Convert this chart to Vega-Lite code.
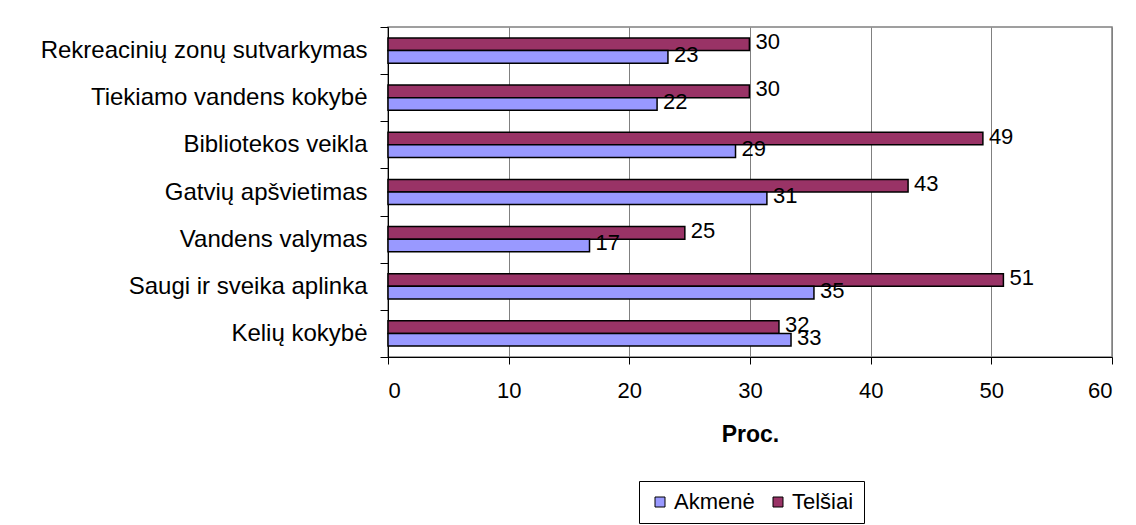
{
  "$schema": "https://vega.github.io/schema/vega-lite/v6.json",
  "autosize": {"type": "none"},
  "padding": {"left": 388, "top": 27, "right": 24, "bottom": 168},
  "width": 724,
  "height": 330,
  "background": "white",
  "data": {
    "values": [
      {"kategorija": "Rekreacinių zonų sutvarkymas\u00a0", "miestas": "Telšiai", "proc": 29.95},
      {"kategorija": "Rekreacinių zonų sutvarkymas\u00a0", "miestas": "Akmenė", "proc": 23.2},
      {"kategorija": "Tiekiamo vandens kokybė\u00a0", "miestas": "Telšiai", "proc": 29.95},
      {"kategorija": "Tiekiamo vandens kokybė\u00a0", "miestas": "Akmenė", "proc": 22.3},
      {"kategorija": "Bibliotekos veikla\u00a0", "miestas": "Telšiai", "proc": 49.3},
      {"kategorija": "Bibliotekos veikla\u00a0", "miestas": "Akmenė", "proc": 28.8},
      {"kategorija": "Gatvių apšvietimas", "miestas": "Telšiai", "proc": 43.1},
      {"kategorija": "Gatvių apšvietimas", "miestas": "Akmenė", "proc": 31.4},
      {"kategorija": "Vandens valymas", "miestas": "Telšiai", "proc": 24.6},
      {"kategorija": "Vandens valymas", "miestas": "Akmenė", "proc": 16.7},
      {"kategorija": "Saugi ir sveika aplinka\u00a0", "miestas": "Telšiai", "proc": 51.0},
      {"kategorija": "Saugi ir sveika aplinka\u00a0", "miestas": "Akmenė", "proc": 35.3},
      {"kategorija": "Kelių kokybė\u00a0", "miestas": "Telšiai", "proc": 32.4},
      {"kategorija": "Kelių kokybė\u00a0", "miestas": "Akmenė", "proc": 33.4}
    ]
  },
  "encoding": {
    "y": {
      "field": "kategorija",
      "type": "nominal",
      "sort": null,
      "scale": {"paddingInner": 0, "paddingOuter": 0},
      "axis": {
        "title": null,
        "tickBand": "extent",
        "domainColor": "black",
        "domainWidth": 1,
        "tickColor": "black",
        "tickSize": 8,
        "labelFontSize": 24,
        "labelColor": "black",
        "labelPadding": 13,
        "labelLimit": 500,
        "grid": false
      }
    },
    "x": {
      "field": "proc",
      "type": "quantitative",
      "scale": {"domain": [0, 60], "nice": false},
      "axis": {
        "title": "Proc.",
        "values": [0, 10, 20, 30, 40, 50, 60],
        "grid": true,
        "gridColor": "#808080",
        "gridOpacity": 1,
        "gridWidth": 1,
        "domainColor": "black",
        "tickColor": "black",
        "tickSize": 7,
        "labelFontSize": 22,
        "labelColor": "black",
        "labelPadding": 16,
        "titleFontSize": 23,
        "titleFontWeight": "bold",
        "titleColor": "black",
        "titlePadding": 22
      }
    },
    "yOffset": {
      "field": "miestas",
      "type": "nominal",
      "sort": ["Telšiai", "Akmenė"],
      "scale": {"paddingInner": 0, "paddingOuter": 0.87}
    }
  },
  "layer": [
    {
      "mark": {"type": "bar", "stroke": "black", "strokeWidth": 1.5},
      "encoding": {
        "color": {
          "field": "miestas",
          "type": "nominal",
          "scale": {"domain": ["Akmenė", "Telšiai"], "range": ["#9999FF", "#993366"]},
          "legend": {
            "title": null,
            "orient": "none",
            "legendX": 251,
            "legendY": 454,
            "direction": "horizontal",
            "strokeColor": "black",
            "fillColor": "white",
            "padding": 10,
            "symbolType": "square",
            "symbolSize": 100,
            "symbolStrokeColor": "black",
            "symbolStrokeWidth": 1,
            "labelFontSize": 22,
            "labelColor": "black",
            "labelOffset": 3,
            "columnPadding": 12
          }
        }
      }
    },
    {
      "mark": {"type": "text", "align": "left", "baseline": "middle", "dx": 6, "dy": -2, "fontSize": 22, "color": "black"},
      "encoding": {
        "text": {"field": "proc", "type": "quantitative", "format": ".0f"}
      }
    }
  ],
  "config": {
    "font": "Liberation Sans",
    "view": {"stroke": "#808080", "strokeWidth": 1.5},
    "axis": {"labelFont": "Liberation Sans", "titleFont": "Liberation Sans"},
    "legend": {"labelFont": "Liberation Sans"}
  }
}
